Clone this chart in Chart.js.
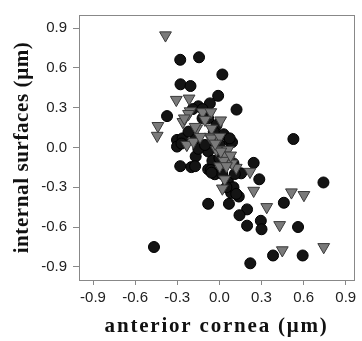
<!DOCTYPE html>
<html>
<head>
<meta charset="utf-8">
<script src="https://cdn.jsdelivr.net/npm/chart.js@4/dist/chart.umd.min.js"></script>
<style>
  html, body { margin: 0; padding: 0; background: #fff; }
  #wrap { width: 362px; height: 341px; position: relative; }
</style>
</head>
<body>
<div id="wrap"><canvas id="scatter" width="362" height="341"></canvas></div>
<script>
// tick labels shared by both axes
const tickValues = [-0.9, -0.6, -0.3, 0.0, 0.3, 0.6, 0.9];

// black circles: [anterior cornea, internal surfaces]
const circlePoints = [
  [-0.279, 0.662], [-0.145, 0.681], [0.021, 0.551], [-0.277, 0.477], [-0.206, 0.464],
  [-0.009, 0.390], [-0.068, 0.333], [-0.150, 0.311], [0.122, 0.286], [-0.373, 0.237],
  [0.527, 0.064], [-0.302, 0.057], [-0.302, 0.007], [-0.262, 0.069], [-0.169, -0.067],
  [-0.279, -0.141], [-0.200, -0.148], [-0.173, -0.141], [0.244, -0.116], [0.284, -0.240],
  [0.741, -0.264], [-0.080, -0.425], [0.068, -0.425], [0.138, -0.370], [0.084, -0.343],
  [0.459, -0.417], [0.197, -0.467], [0.143, -0.511], [0.197, -0.590], [0.295, -0.553],
  [0.300, -0.617], [0.560, -0.600], [-0.466, -0.751], [0.220, -0.874], [0.382, -0.815],
  [0.593, -0.815], [-0.080, -0.165], [-0.033, -0.202], [0.155, -0.195],
  [-0.19, 0.29], [-0.12, 0.29], [-0.08, 0.22], [-0.02, 0.17], [0.03, 0.10],
  [0.07, 0.05], [0.09, 0.04], [-0.04, 0.02], [-0.08, -0.03], [-0.05, -0.10],
  [0.00, -0.08], [0.05, -0.10], [0.10, -0.12], [0.02, -0.20], [0.06, -0.25],
  [0.10, -0.30], [0.12, -0.35], [0.05, -0.30], [-0.06, -0.17], [0.11, -0.20],
  [-0.17, 0.07], [-0.22, 0.12], [-0.12, 0.22], [-0.04, 0.12], [0.00, 0.02],
  [0.04, -0.05], [-0.27, 0.03], [-0.15, -0.01], [0.073, 0.069], [-0.103, 0.019],
  [-0.056, -0.190]
];

// grey down-triangles
const trianglePoints = [
  [-0.384, 0.847], [-0.307, 0.360], [-0.216, 0.370], [-0.209, 0.274], [-0.120, 0.267],
  [-0.061, 0.267], [0.009, 0.205], [-0.438, 0.163], [-0.443, 0.089], [-0.260, 0.193],
  [-0.162, 0.143], [-0.103, 0.210], [-0.056, 0.143], [-0.232, 0.020], [-0.185, 0.044],
  [-0.068, 0.081], [-0.005, 0.069], [-0.021, -0.017], [0.026, -0.030], [0.061, -0.017],
  [0.002, -0.141], [0.068, -0.091], [0.120, -0.153], [0.218, -0.183], [0.037, -0.240],
  [0.021, -0.309], [0.244, -0.326], [0.337, -0.449], [0.513, -0.338], [0.602, -0.358],
  [0.429, -0.585], [0.448, -0.775], [0.743, -0.751],
  [-0.220, 0.254], [-0.173, 0.156], [-0.138, 0.081], [-0.056, 0.069], [0.003, 0.081],
  [-0.25, 0.22], [0.04, -0.06], [0.09, -0.12], [0.03, -0.10], [0.01, -0.03],
  [-0.03, 0.03], [0.05, -0.14], [0.08, -0.06]
];

const toXY = arr => arr.map(([x, y]) => ({ x, y }));

// the axis titles in the original are set loosely, so add some letter spacing
const baseDrawTitle = Chart.Scale.prototype.drawTitle;
Chart.Scale.prototype.drawTitle = function () {
  this.ctx.save();
  this.ctx.letterSpacing = this.axis === 'x' ? '1.8px' : '0.6px';
  baseDrawTitle.call(this);
  this.ctx.restore();
};

// frame around the plot area (top and right sides too)
const framePlugin = {
  id: 'frame',
  afterDraw(chart) {
    const { ctx, chartArea: a } = chart;
    ctx.save();
    ctx.strokeStyle = '#888';
    ctx.lineWidth = 1;
    ctx.strokeRect(Math.round(a.left) + 0.5, Math.round(a.top) + 0.5,
      Math.round(a.right - a.left), Math.round(a.bottom - a.top));
    ctx.restore();
  }
};

const tickFont = { family: '"Liberation Sans", Arial, sans-serif', size: 15 };
const titleFont = { family: '"Liberation Serif", "Times New Roman", serif', size: 21, weight: 'bold' };

function axis(min, max, title, fitSize, horizontal) {
  return {
    type: 'linear',
    min, max,
    afterBuildTicks: s => { s.ticks = tickValues.map(v => ({ value: v })); },
    afterFit: s => { if (horizontal) s.height = fitSize; else s.width = fitSize; },
    ticks: {
      color: '#222',
      font: tickFont,
      padding: horizontal ? 4 : 6,
      callback: v => v.toFixed(1)
    },
    grid: { display: true, drawOnChartArea: false, drawTicks: true, tickLength: horizontal ? 5 : 6, color: '#888' },
    border: { display: true, color: '#888' },
    title: {
      display: true, text: title, color: '#111', font: titleFont,
      padding: horizontal ? { top: 2, bottom: 2 } : { top: 10, bottom: 2 }
    }
  };
}

new Chart(document.getElementById('scatter'), {
  type: 'scatter',
  data: {
    datasets: [
      {
        label: 'triangles',
        data: toXY(trianglePoints),
        pointStyle: 'triangle',
        rotation: 180,
        radius: 6.8,
        backgroundColor: '#7a7a7a',
        borderColor: '#3a3a3a',
        borderWidth: 1,
        order: 0
      },
      {
        label: 'circles',
        data: toXY(circlePoints),
        pointStyle: 'circle',
        radius: 5.5,
        backgroundColor: '#141414',
        borderColor: '#000',
        borderWidth: 1,
        order: 1
      }
    ]
  },
  options: {
    responsive: false,
    animation: false,
    layout: { padding: { top: 9, right: 5, left: 0, bottom: 0 } },
    plugins: { legend: { display: false }, tooltip: { enabled: false } },
    scales: {
      x: axis(-1.0, 0.96, 'anterior cornea (\u03bcm)', 61, true),
      y: axis(-1.0, 1.0, 'internal surfaces (\u03bcm)', 79, false)
    }
  },
  plugins: [framePlugin]
});
</script>
</body>
</html>
